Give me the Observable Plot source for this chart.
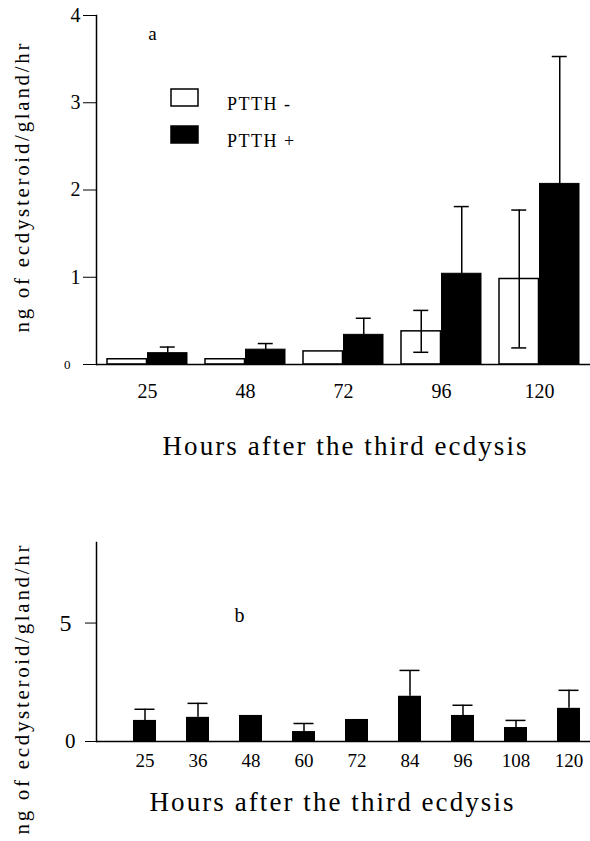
<!DOCTYPE html>
<html>
<head>
<meta charset="utf-8">
<script src="https://cdn.jsdelivr.net/npm/d3@7"></script>
<script src="https://cdn.jsdelivr.net/npm/@observablehq/plot@0.6"></script>
<style>
  body { margin: 0; background: #fff; }
  #wrap { position: relative; width: 590px; height: 841px; overflow: hidden; background: #fff; }
  #wrap svg { display: block; }
  #legend { position: absolute; left: 171px; top: 87px; }
  #legend > div { font-family: "Liberation Serif", "Times New Roman", serif !important; font-size: 18px !important; margin: 0 !important; color: #000; }
  #legend [class$="-swatch"] { margin-bottom: 15px; padding-bottom: 1px; }
  #legend [class$="-swatch"] > svg { margin-right: 29px !important; overflow: visible; }
  #legend svg rect { stroke: #000; stroke-width: 1.5px; }
  #legend [class$="-label"] { position: relative; top: 7px; letter-spacing: 1.5px; overflow: visible !important; }
</style>
</head>
<body>
<div id="wrap"><div id="legend"></div></div>
<script>
// ---- Data: panel a ----
const hoursA = ["25", "48", "72", "96", "120"];
const series = ["PTTH -", "PTTH +"];
const ptthMinus = [0.06, 0.06, 0.15, 0.38, 0.98];
const ptthMinusErr = [0, 0, 0, 0.24, 0.79];
const ptthPlus = [0.13, 0.17, 0.34, 1.04, 2.07];
const ptthPlusErr = [0.07, 0.07, 0.19, 0.77, 1.46];
const yTicksA = [1, 2, 3, 4];

// ---- Data: panel b ----
const hoursB = ["25", "36", "48", "60", "72", "84", "96", "108", "120"];
const valuesB = [0.89, 1.02, 1.10, 0.42, 0.93, 1.91, 1.10, 0.59, 1.40];
const errB = [0.47, 0.59, 0, 0.34, 0, 1.09, 0.43, 0.30, 0.76];
const yTicksB = [5];

const yLabel = "ng of ecdysteroid/gland/hr";
const xLabel = "Hours after the third ecdysis";

// ---- tables ----
const minusRows = hoursA.map((h, i) => ({hour: h, value: ptthMinus[i], err: ptthMinusErr[i]}));
const plusRows = hoursA.map((h, i) => ({hour: h, value: ptthPlus[i], err: ptthPlusErr[i]}));
const rowsB = hoursB.map((h, i) => ({hour: h, value: valuesB[i], err: errB[i]}));

const serif = "'Liberation Serif', 'Times New Roman', serif";
const W = 590, mL = 96, mR = 0;
const padIn = 0.18, padOut = 0.09;
const bw = (W - mL - mR) / hoursA.length * (1 - padIn);
const half = bw / 2;
const cap = 16;
const capInset = (bw - cap) / 2;
const fmt = d => String(d);

const plotA = Plot.plot({
  width: W, height: 470,
  marginLeft: mL, marginRight: mR, marginTop: 15, marginBottom: 106,
  style: {fontFamily: serif, background: "white", overflow: "visible", color: "black"},
  x: {type: "band", domain: hoursA, paddingInner: padIn, paddingOuter: padOut},
  y: {domain: [0, 4]},
  marks: [
    Plot.barY(minusRows, {x: "hour", y: "value", fill: "white", stroke: "black", strokeWidth: 1.5, insetRight: half}),
    Plot.barY(plusRows, {x: "hour", y: "value", fill: "black", stroke: "black", strokeWidth: 1, insetLeft: half}),
    Plot.ruleX(minusRows.filter(d => d.err > 0), {x: "hour", y1: d => d.value - d.err, y2: d => d.value + d.err, dx: -half / 2, strokeWidth: 1.5}),
    Plot.tickY(minusRows.filter(d => d.err > 0), {x: "hour", y: d => d.value + d.err, dx: -half / 2, insetLeft: capInset, insetRight: capInset, strokeWidth: 1.5}),
    Plot.tickY(minusRows.filter(d => d.err > 0), {x: "hour", y: d => d.value - d.err, dx: -half / 2, insetLeft: capInset, insetRight: capInset, strokeWidth: 1.5}),
    Plot.ruleX(plusRows.filter(d => d.err > 0), {x: "hour", y1: "value", y2: d => d.value + d.err, dx: half / 2, strokeWidth: 1.5}),
    Plot.tickY(plusRows.filter(d => d.err > 0), {x: "hour", y: d => d.value + d.err, dx: half / 2, insetLeft: capInset, insetRight: capInset, strokeWidth: 1.5}),
    Plot.ruleY([0], {strokeWidth: 1.5}),
    Plot.frame({anchor: "left", strokeWidth: 1.5}),
    Plot.axisY({ticks: yTicksA, tickFormat: fmt, tickSize: 13, tickPadding: 3, fontSize: 20, fontFamily: serif, label: null}),
    Plot.axisY({ticks: [0], tickFormat: fmt, tickSize: 13, tickPadding: 13, fontSize: 13, fontFamily: serif, label: null}),
    Plot.axisX({tickSize: 0, tickPadding: 19, fontSize: 20, fontFamily: serif, label: null}),
    Plot.text([yLabel], {frameAnchor: "left", textAnchor: "middle", lineAnchor: "middle", rotate: -90, dx: -74, dy: -2, fontSize: 21, fontFamily: serif}),
    Plot.text([xLabel], {frameAnchor: "bottom", textAnchor: "middle", lineAnchor: "middle", dx: 1, dy: 82, fontSize: 27, fontFamily: serif}),
    Plot.text(["a"], {frameAnchor: "top-left", textAnchor: "middle", lineAnchor: "middle", dx: 56, dy: 18, fontSize: 19, fontFamily: serif})
  ]
});

const plotB = Plot.plot({
  width: W, height: 371,
  marginLeft: mL, marginRight: mR, marginTop: 72, marginBottom: 100,
  style: {fontFamily: serif, background: "white", overflow: "visible", color: "black"},
  x: {type: "band", domain: hoursB, range: [114, 599], paddingInner: 0.573, paddingOuter: 0.2865},
  y: {domain: [0, 8.4]},
  marks: [
    Plot.barY(rowsB, {x: "hour", y: "value", fill: "black"}),
    Plot.ruleX(rowsB.filter(d => d.err > 0), {x: "hour", y1: "value", y2: d => d.value + d.err, strokeWidth: 1.5}),
    Plot.tickY(rowsB.filter(d => d.err > 0), {x: "hour", y: d => d.value + d.err, insetLeft: 1.5, insetRight: 1.5, strokeWidth: 1.5}),
    Plot.ruleY([0], {strokeWidth: 1.5}),
    Plot.frame({anchor: "left", strokeWidth: 1.5}),
    Plot.axisY({ticks: yTicksB, tickFormat: fmt, tickSize: 11, tickPadding: 14, fontSize: 24, fontFamily: serif, label: null}),
    Plot.axisY({ticks: [0], tickFormat: fmt, tickSize: 11, tickPadding: 10, fontSize: 21, fontFamily: serif, label: null}),
    Plot.axisX({tickSize: 0, tickPadding: 12, fontSize: 19, fontFamily: serif, label: null}),
    Plot.text([yLabel], {frameAnchor: "left", textAnchor: "middle", lineAnchor: "middle", rotate: -90, dx: -74, dy: 48, fontSize: 21, fontFamily: serif}),
    Plot.text([xLabel], {frameAnchor: "bottom", textAnchor: "middle", lineAnchor: "middle", dx: -12, dy: 61, fontSize: 27, fontFamily: serif}),
    Plot.text(["b"], {frameAnchor: "top-left", textAnchor: "middle", lineAnchor: "middle", dx: 143, dy: 73, fontSize: 20, fontFamily: serif})
  ]
});

// Spaced type of the axis titles, as in the reference
for (const svg of [plotA, plotB]) {
  svg.querySelectorAll("text").forEach(t => {
    if (t.textContent === yLabel) { t.setAttribute("textLength", 289); t.setAttribute("lengthAdjust", "spacing"); }
    if (t.textContent === xLabel) { t.setAttribute("textLength", 364); t.setAttribute("lengthAdjust", "spacing"); }
  });
}

const wrap = document.getElementById("wrap");
wrap.insertBefore(plotA, wrap.firstChild);
wrap.insertBefore(plotB, plotA.nextSibling);

const legend = Plot.legend({
  color: {type: "ordinal", domain: series, range: ["white", "black"]},
  legend: "swatches",
  columns: 1,
  swatchWidth: 27,
  swatchHeight: 17
});
document.getElementById("legend").appendChild(legend);
</script>
</body>
</html>
